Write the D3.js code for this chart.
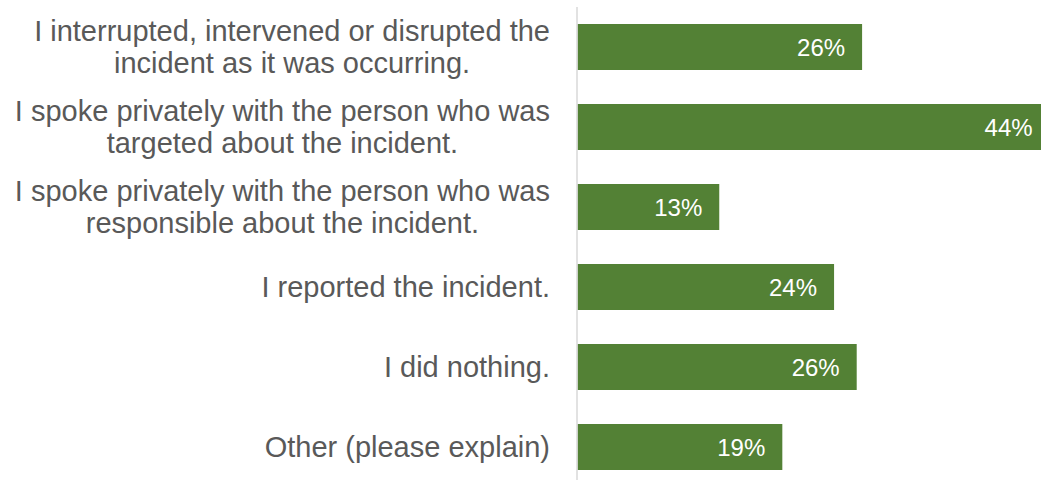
<!DOCTYPE html>
<html>
<head>
<meta charset="utf-8">
<script src="https://cdn.jsdelivr.net/npm/d3@7"></script>
<style>
  body { margin: 0; background: #fff; }
  svg { display: block; font-family: "Liberation Sans", Arial, sans-serif; }
</style>
</head>
<body>
<svg id="chart" width="1041" height="480"></svg>
<script>
// answers, each one split into the lines it is shown on
const categories = [
    ['I interrupted, intervened or disrupted the', 'incident as it was occurring.'],
    ['I spoke privately with the person who was', 'targeted about the incident.'],
    ['I spoke privately with the person who was', 'responsible about the incident.'],
    ['I reported the incident.'],
    ['I did nothing.'],
    ['Other (please explain)']
]
const shares = [0.264, 0.438, 0.1315, 0.238, 0.259, 0.19]

const svg = d3.select('#chart')
const axisX = 577.5
const labelRight = 550

const x = d3.scaleLinear().domain([0, 0.5]).range([axisX, axisX + 539])
const y = d3.scaleBand()
    .domain(d3.range(categories.length))
    .range([7, 487])
    .paddingInner(0.425)
    .paddingOuter(0.2125)

const fmt = d3.format('.0%')

// bars
svg.append('g')
    .selectAll('rect')
    .data(shares)
    .join('rect')
    .attr('x', x(0))
    .attr('y', (d, i) => y(i))
    .attr('width', d => x(d) - x(0))
    .attr('height', y.bandwidth())
    .attr('fill', '#538135')

// vertical axis line
svg.append('line')
    .attr('x1', axisX - 0.5).attr('x2', axisX - 0.5)
    .attr('y1', 7).attr('y2', 480)
    .attr('stroke', '#d9d9d9')
    .attr('stroke-width', 1.5)

// value labels inside the bar ends
svg.append('g')
    .selectAll('text')
    .data(shares)
    .join('text')
    .attr('x', d => x(d) - 17)
    .attr('y', (d, i) => y(i) + y.bandwidth() / 2)
    .attr('dy', '0.38em')
    .attr('text-anchor', 'end')
    .attr('fill', '#ffffff')
    .attr('font-size', 24)
    .text(d => fmt(d))

// category labels: block is right aligned, lines are centred inside it
const lineGap = 32.4
const labels = svg.append('g')
    .selectAll('text')
    .data(categories)
    .join('text')
    .attr('fill', '#595959')
    .attr('font-size', 29)
    .attr('y', (d, i) => y(i) + y.bandwidth() / 2)

labels.each(function (lines) {
    const t = d3.select(this)
    const cy = +t.attr('y')
    const first = cy - (lines.length - 1) * lineGap / 2 + 9.8
    const spans = lines.map((line, k) => t.append('tspan')
        .attr('y', first + k * lineGap)
        .text(line))
    const widest = d3.max(spans, s => s.node().getComputedTextLength())
    t.attr('text-anchor', 'middle')
    spans.forEach(s => s.attr('x', labelRight - widest / 2))
})
</script>
</body>
</html>
